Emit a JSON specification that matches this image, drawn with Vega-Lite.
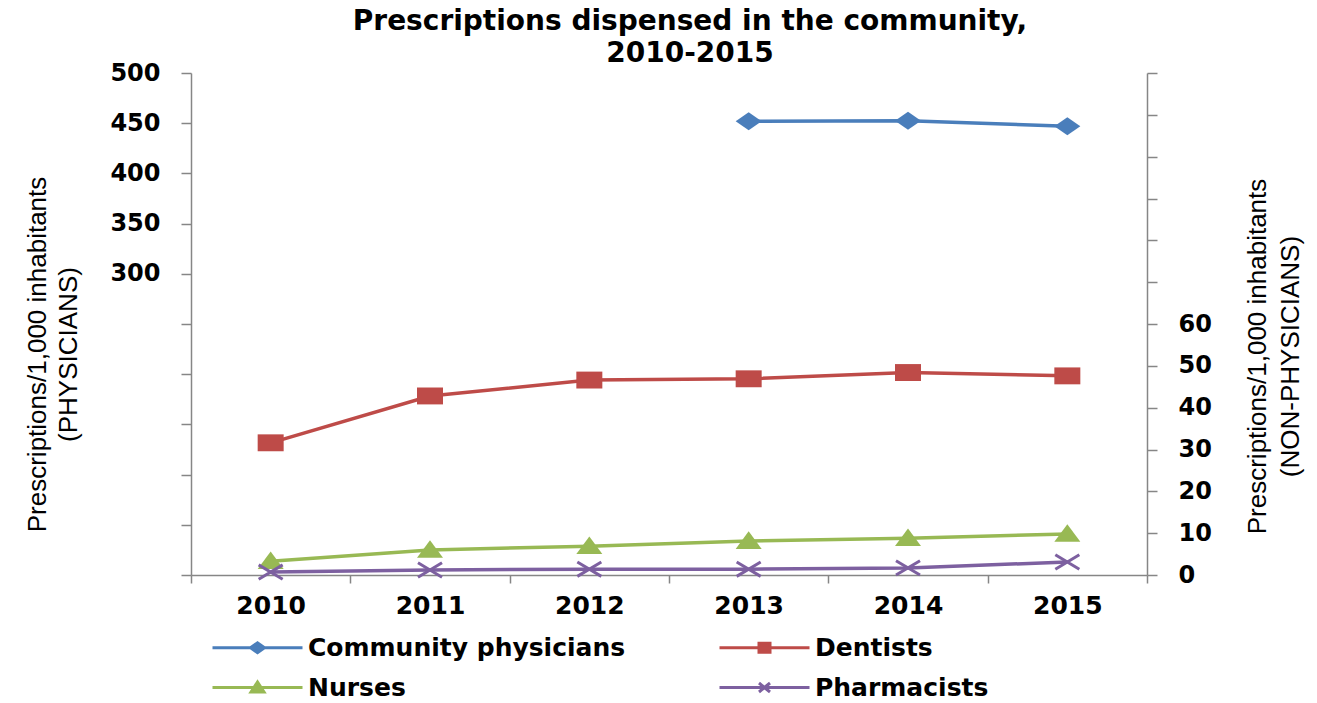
{
  "$schema": "https://vega.github.io/schema/vega-lite/v6.json",
  "autosize": {"type": "none"},
  "padding": {"left": 191, "top": 73, "right": 170, "bottom": 128},
  "width": 956,
  "height": 502,
  "background": "white",
  "config": {
    "view": {"stroke": null},
    "axis": {
      "grid": false,
      "domainColor": "#868686",
      "tickColor": "#868686",
      "domainWidth": 1.5,
      "tickWidth": 1.5,
      "labelFont": "DejaVu Sans",
      "labelFontWeight": "bold",
      "labelColor": "#000000",
      "titleFont": "Liberation Sans",
      "titleFontWeight": "normal",
      "titleColor": "#000000"
    }
  },
  "title": {
    "text": ["Prescriptions dispensed in the community,", "2010-2015"],
    "font": "DejaVu Sans",
    "fontWeight": "bold",
    "fontSize": 28,
    "lineHeight": 32,
    "color": "#000000",
    "anchor": "middle",
    "frame": "group",
    "dx": 21,
    "offset": -7
  },
  "data": {
    "values": [
      {"year": "2013", "series": "Community physicians", "value": 452},
      {"year": "2014", "series": "Community physicians", "value": 452.5},
      {"year": "2015", "series": "Community physicians", "value": 447},
      {"year": "2010", "series": "Dentists", "value": 31.6},
      {"year": "2011", "series": "Dentists", "value": 42.8},
      {"year": "2012", "series": "Dentists", "value": 46.6},
      {"year": "2013", "series": "Dentists", "value": 46.9},
      {"year": "2014", "series": "Dentists", "value": 48.4},
      {"year": "2015", "series": "Dentists", "value": 47.6},
      {"year": "2010", "series": "Nurses", "value": 3.3},
      {"year": "2011", "series": "Nurses", "value": 6.0},
      {"year": "2012", "series": "Nurses", "value": 6.9},
      {"year": "2013", "series": "Nurses", "value": 8.1},
      {"year": "2014", "series": "Nurses", "value": 8.8},
      {"year": "2015", "series": "Nurses", "value": 9.8},
      {"year": "2010", "series": "Pharmacists", "value": 0.7},
      {"year": "2011", "series": "Pharmacists", "value": 1.2},
      {"year": "2012", "series": "Pharmacists", "value": 1.4},
      {"year": "2013", "series": "Pharmacists", "value": 1.4},
      {"year": "2014", "series": "Pharmacists", "value": 1.7},
      {"year": "2015", "series": "Pharmacists", "value": 3.1}
    ]
  },
  "encoding": {
    "x": {
      "field": "year",
      "type": "ordinal",
      "scale": {"type": "band", "paddingInner": 0, "paddingOuter": 0, "domain": ["2010", "2011", "2012", "2013", "2014", "2015"]},
      "axis": {"title": null, "labelAngle": 0, "tickBand": "extent", "tickSize": 8, "labelPadding": 10, "labelFontSize": 25}
    }
  },
  "layer": [
    {
      "transform": [{"filter": "false"}],
      "mark": {"type": "point", "filled": false, "opacity": 1, "strokeWidth": 3},
      "encoding": {
        "color": {
          "field": "series",
          "type": "nominal",
          "scale": {
            "domain": ["Community physicians", "Dentists", "Nurses", "Pharmacists"],
            "range": ["#4A7EBB", "#BE4B48", "#98B954", "#7D60A0"]
          },
          "legend": {
            "orient": "none",
            "legendX": 19,
            "legendY": 562,
            "direction": "horizontal",
            "columns": 2,
            "title": null,
            "padding": 0,
            "symbolSize": 400,
            "symbolStrokeWidth": 3,
            "symbolOffset": 35,
            "labelOffset": 38,
            "labelFont": "DejaVu Sans",
            "labelFontWeight": "bold",
            "labelFontSize": 25,
            "labelColor": "#000000",
            "labelLimit": 800,
            "columnPadding": 87,
            "rowPadding": 14
          }
        },
        "shape": {
          "field": "series",
          "type": "nominal",
          "scale": {
            "domain": ["Community physicians", "Dentists", "Nurses", "Pharmacists"],
            "range": [
              "M-4.5,0H4.5M-0.7,0L0,-0.5L0.7,0L0,0.5Z",
              "M-4.5,0H4.5M-0.55,-0.45H0.55V0.45H-0.55Z",
              "M-4.5,0H4.5M-0.65,0.45L0,-0.55L0.65,0.45Z",
              "M-4.5,0H4.5M-0.55,-0.45L0.55,0.45M-0.55,0.45L0.55,-0.45"
            ]
          },
          "legend": {
            "orient": "none",
            "legendX": 19,
            "legendY": 562,
            "direction": "horizontal",
            "columns": 2,
            "title": null,
            "padding": 0,
            "symbolSize": 400,
            "symbolStrokeWidth": 3,
            "symbolOffset": 35,
            "labelOffset": 38,
            "labelFont": "DejaVu Sans",
            "labelFontWeight": "bold",
            "labelFontSize": 25,
            "labelColor": "#000000",
            "labelLimit": 800,
            "columnPadding": 87,
            "rowPadding": 14
          }
        }
      }
    },
    {
      "transform": [{"filter": "datum.series === 'Community physicians'"}],
      "encoding": {
        "y": {
          "field": "value",
          "type": "quantitative",
          "scale": {"domain": [0, 500], "nice": false},
          "axis": {
            "orient": "left",
            "values": [0, 50, 100, 150, 200, 250, 300, 350, 400, 450, 500],
            "labelExpr": "datum.value >= 300 ? datum.label : ''",
            "tickSize": 10,
            "labelPadding": 21,
            "labelFontSize": 24,
            "title": ["Prescriptions/1,000 inhabitants", "(PHYSICIANS)"],
            "titleFontSize": 26,
            "titleAngle": 270,
            "titleAlign": "center",
            "titleBaseline": "middle",
            "titleX": -154,
            "titleY": 281,
            "titleLineHeight": 31
          }
        },
        "color": {
          "field": "series",
          "type": "nominal",
          "scale": {
            "domain": ["Community physicians", "Dentists", "Nurses", "Pharmacists"],
            "range": ["#4A7EBB", "#BE4B48", "#98B954", "#7D60A0"]
          },
          "legend": null
        }
      },
      "layer": [
        {"mark": {"type": "line", "strokeWidth": 3.5}},
        {"mark": {"type": "point", "filled": true, "size": 676, "opacity": 1, "shape": "M-1,0L0,-0.69L1,0L0,0.69Z"}}
      ]
    },
    {
      "transform": [{"filter": "datum.series !== 'Community physicians'"}],
      "encoding": {
        "y": {
          "field": "value",
          "type": "quantitative",
          "scale": {"domain": [0, 120], "nice": false},
          "axis": {
            "orient": "right",
            "values": [0, 10, 20, 30, 40, 50, 60, 70, 80, 90, 100, 110, 120],
            "labelExpr": "datum.value <= 60 ? datum.label : ''",
            "tickSize": 10,
            "labelPadding": 21,
            "labelFontSize": 24,
            "title": ["Prescriptions/1,000 inhabitants", "(NON-PHYSICIANS)"],
            "titleFontSize": 26,
            "titleAngle": 270,
            "titleAlign": "center",
            "titleBaseline": "middle",
            "titleX": 110,
            "titleY": 283,
            "titleLineHeight": 33
          }
        },
        "color": {
          "field": "series",
          "type": "nominal",
          "scale": {
            "domain": ["Community physicians", "Dentists", "Nurses", "Pharmacists"],
            "range": ["#4A7EBB", "#BE4B48", "#98B954", "#7D60A0"]
          },
          "legend": null
        }
      },
      "layer": [
        {"mark": {"type": "line", "strokeWidth": 3.5}},
        {
          "transform": [{"filter": "datum.series === 'Dentists'"}],
          "mark": {"type": "point", "filled": true, "size": 676, "opacity": 1, "shape": "M-1,-0.65H1V0.65H-1Z"}
        },
        {
          "transform": [{"filter": "datum.series === 'Nurses'"}],
          "mark": {"type": "point", "filled": true, "size": 676, "opacity": 1, "shape": "M-1,0.6L0,-0.75L1,0.6Z"}
        },
        {
          "transform": [{"filter": "datum.series === 'Pharmacists'"}],
          "mark": {"type": "point", "filled": false, "size": 576, "opacity": 1, "strokeWidth": 3, "shape": "M-1,-0.6L1,0.6M-1,0.6L1,-0.6"}
        }
      ]
    }
  ],
  "resolve": {"scale": {"y": "independent"}}
}
